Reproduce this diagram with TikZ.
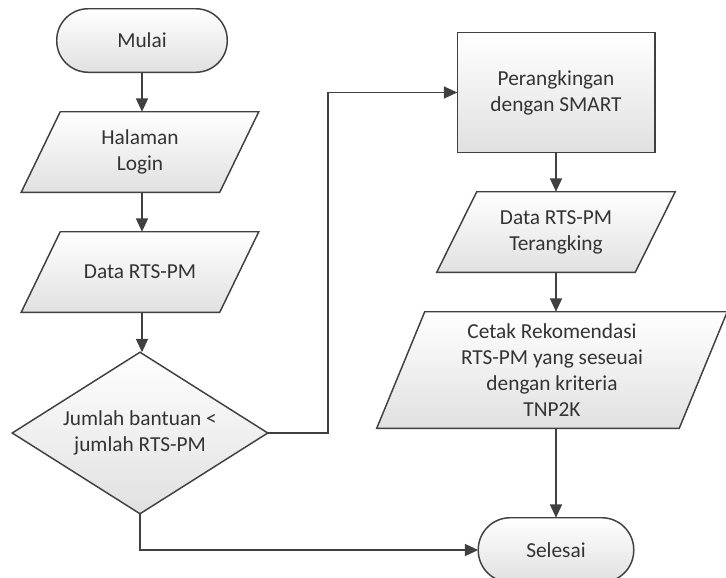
\documentclass[tikz,border=0pt]{standalone}
\usepackage{fontspec}
\setmainfont{Carlito}
\usetikzlibrary{arrows.meta,backgrounds}

\definecolor{edge}{HTML}{404040}
\definecolor{txt}{HTML}{333333}

\tikzset{
  lbl/.style={rectangle, inner sep=0pt, align=center, text=txt,
              font=\fontsize{16}{19.5}\selectfont},
  shp/.style={draw=edge, line width=1.1pt, top color=white, bottom color=black!12},
  flow/.style={draw=edge, line width=1.1pt, -{Triangle[length=10pt,width=9pt]}},
}

% parallelogram drawn over the box of a named node, top edge shifted right
\newcommand\parashape[2]{%
  \draw[shp] ([xshift=#2]#1.north west) -- (#1.north east)
    -- ([xshift=-#2]#1.south east) -- (#1.south west) -- cycle;}

\begin{document}
\begin{tikzpicture}[x=0.75pt, y=-0.75pt]
  \useasboundingbox (0,0) rectangle (726,578);

  % text boxes
  \node[lbl, minimum width=127.5pt, minimum height=47.25pt] (mulai) at (142,40.5) {Mulai};
  \node[lbl, minimum width=177.75pt, minimum height=60pt] (login) at (140,152) {Halaman\\Login};
  \node[lbl, minimum width=177.75pt, minimum height=60pt] (data) at (140,272) {Data RTS-PM};
  \node[lbl, minimum width=191.25pt, minimum height=120.75pt] (cond) at (140,433) {Jumlah bantuan <\\jumlah RTS-PM};
  \node[lbl, minimum width=147.75pt, minimum height=89.25pt] (rank) at (556,92.5) {Perangkingan\\dengan SMART};
  \node[lbl, minimum width=178.5pt, minimum height=60pt] (ranked) at (556,232) {Data RTS-PM\\Terangking};
  \node[lbl, minimum width=262.5pt, minimum height=87pt] (print) at (552,370) {Cetak Rekomendasi\\RTS-PM yang seseuai\\dengan kriteria\\TNP2K};
  \node[lbl, minimum width=116.25pt, minimum height=48pt] (selesai) at (556,550) {Selesai};

  \coordinate (jog) at (328,0);

  % page and outlines behind the text
  \begin{scope}[on background layer]
    \fill[white] (0,0) rectangle (726,578);
    \draw[shp, rounded corners=23.6pt] (mulai.north west) rectangle (mulai.south east);
    \parashape{login}{29.25pt}
    \parashape{data}{29.25pt}
    \draw[shp] (cond.north) -- (cond.east) -- (cond.south) -- (cond.west) -- cycle;
    \draw[shp] (rank.north west) rectangle (rank.south east);
    \parashape{ranked}{30pt}
    \parashape{print}{36pt}
    \draw[shp, rounded corners=24pt] (selesai.north west) rectangle (selesai.south east);
  \end{scope}

  % connectors
  \draw[flow] (mulai.south) -- (login.north -| mulai.south);
  \draw[flow] (login.south -| mulai.south) -- (data.north -| mulai.south);
  \draw[flow] (data.south -| mulai.south) -- (cond.north -| mulai.south);
  \draw[flow] (cond.east) -- (cond.east -| jog) |- (rank.west);
  \draw[flow] (rank.south) -- (ranked.north);
  \draw[flow] (ranked.south) -- (print.north -| ranked.south);
  \draw[flow] (print.south -| ranked.south) -- (selesai.north);
  \draw[flow] (cond.south) |- (selesai.west);
\end{tikzpicture}
\end{document}
